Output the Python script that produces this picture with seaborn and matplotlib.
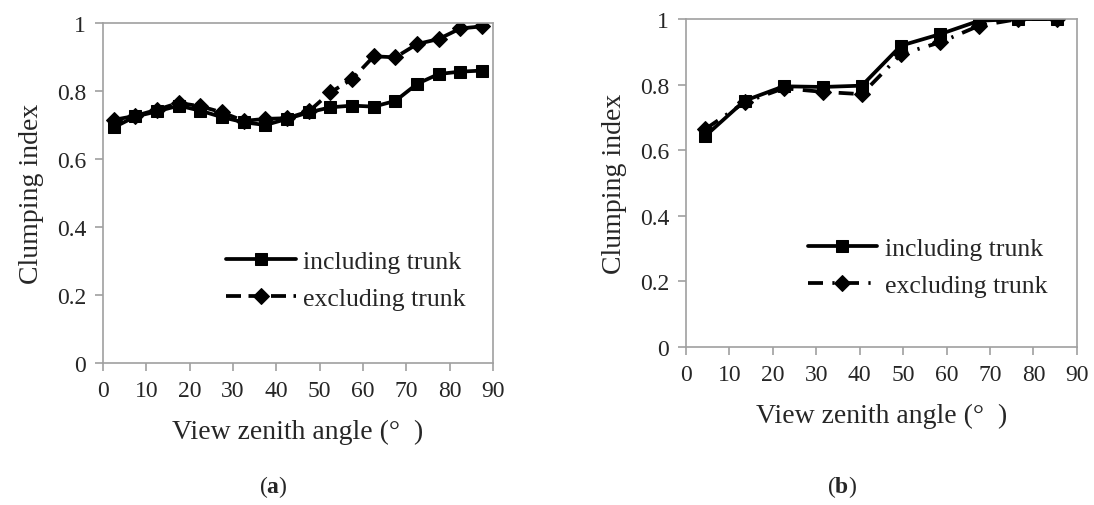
import matplotlib
matplotlib.use("Agg")
import matplotlib.pyplot as plt
import pandas as pd
import seaborn as sns

# panel (a): 5 degree bins
angle_a = [2.5, 7.5, 12.5, 17.5, 22.5, 27.5, 32.5, 37.5, 42.5,
           47.5, 52.5, 57.5, 62.5, 67.5, 72.5, 77.5, 82.5, 87.5]
incl_a = [0.693, 0.725, 0.740, 0.757, 0.742, 0.723, 0.708, 0.700, 0.718,
          0.737, 0.752, 0.757, 0.754, 0.771, 0.821, 0.850, 0.857, 0.860]
excl_a = [0.715, 0.727, 0.745, 0.765, 0.755, 0.737, 0.712, 0.718, 0.720,
          0.740, 0.796, 0.835, 0.902, 0.899, 0.938, 0.953, 0.984, 0.990]

# panel (b): 9 degree bins
angle_b = [4.5, 13.5, 22.5, 31.5, 40.5, 49.5, 58.5, 67.5, 76.5, 85.5]
incl_b = [0.644, 0.751, 0.795, 0.793, 0.797, 0.919, 0.954, 0.995, 1.0, 1.0]
excl_b = [0.665, 0.746, 0.789, 0.778, 0.771, 0.893, 0.929, 0.980, 1.0, 1.0]

series_names = ["including trunk", "excluding trunk"]
y_ticks = [0, 0.2, 0.4, 0.6, 0.8, 1.0]
y_tick_labels = ["0", "0.2", "0.4", "0.6", "0.8", "1"]
x_ticks = [0, 10, 20, 30, 40, 50, 60, 70, 80, 90]


def long_form(angles, incl, excl):
    d1 = pd.DataFrame({"angle": angles, "ci": incl, "serie": series_names[0]})
    d2 = pd.DataFrame({"angle": angles, "ci": excl, "serie": series_names[1]})
    # excluding drawn first so the squares sit on top
    return pd.concat([d2, d1], ignore_index=True)


sns.set_style("white")
plt.rcParams["font.family"] = ["Liberation Serif", "DejaVu Serif"]
plt.rcParams["mathtext.fontset"] = "custom"
plt.rcParams["mathtext.bf"] = "Liberation Serif:bold"
plt.rcParams["mathtext.rm"] = "Liberation Serif"

fig = plt.figure(figsize=(10.94, 5.06), dpi=100)
ax_a = fig.add_axes([0.0941, 0.2806, 0.3565, 0.672])
ax_b = fig.add_axes([0.627, 0.3123, 0.3574, 0.648])

cores = {"including trunk": "black", "excluding trunk": "black"}
marcadores = {"including trunk": "s", "excluding trunk": "D"}
tracos_a = {"including trunk": "", "excluding trunk": (4, 2)}
tracos_b = {"including trunk": "", "excluding trunk": (4, 2.5, 0.6, 2.5)}

paineis = [
    (ax_a, long_form(angle_a, incl_a, excl_a), tracos_a, (0.29, 0.243)),
    (ax_b, long_form(angle_b, incl_b, excl_b), tracos_b, (0.285, 0.243)),
]

for ax, dados, tracos, pos_leg in paineis:
    sns.lineplot(data=dados, x="angle", y="ci", hue="serie", style="serie",
                 palette=cores, markers=marcadores, dashes=tracos,
                 linewidth=2.7, markersize=8.5, markeredgecolor="black",
                 hue_order=series_names, style_order=series_names, ax=ax)
    ax.set_xlim(0, 90)
    ax.set_ylim(0, 1)
    ax.set_xticks(x_ticks)
    ax.set_yticks(y_ticks)
    ax.set_yticklabels(y_tick_labels)
    ax.set_xlabel("View zenith angle (°  )", fontsize=20, labelpad=13)
    ax.set_ylabel("Clumping index", fontsize=20, labelpad=9)
    for lado in ax.spines.values():
        lado.set_color("#a0a0a0")
        lado.set_linewidth(1.2)
    ax.tick_params(axis="both", direction="out", length=6, width=1.2,
                   color="#a0a0a0", labelsize=17, pad=6, bottom=True, left=True)
    ax.legend(frameon=False, loc="center left", bbox_to_anchor=pos_leg,
              fontsize=18.5, handlelength=2.7, handletextpad=0.3,
              labelspacing=0.55, borderaxespad=0)

fig.text(0.25, 0.037, r"($\mathbf{a}$)", ha="center", va="center", fontsize=17)
fig.text(0.77, 0.037, r"($\mathbf{b}$)", ha="center", va="center", fontsize=17)

fig.savefig("out.png", dpi=100)
